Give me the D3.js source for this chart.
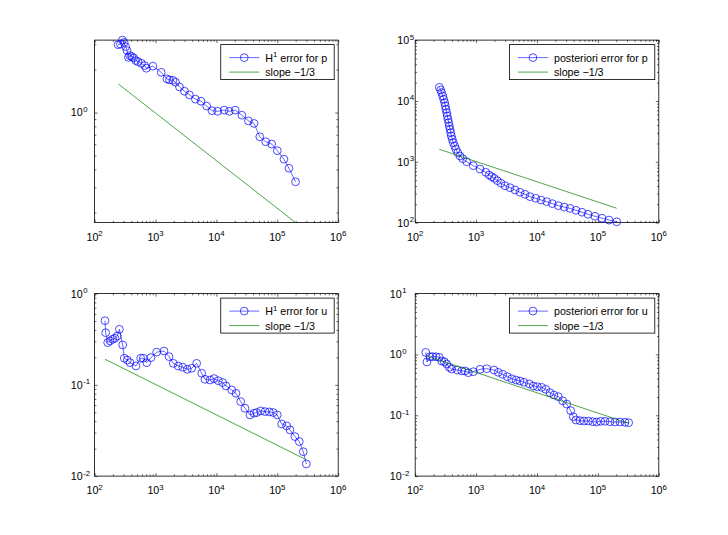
<!DOCTYPE html>
<html lang="en">
<head>
<meta charset="UTF-8">
<title>Error convergence</title>
<script src="https://d3js.org/d3.v7.min.js"></script>
<style>
  * { margin: 0; padding: 0; }
  body { background: #fff; width: 728px; height: 535px; overflow: hidden; }
  svg { display: block; font-family: 'Liberation Sans', Arial, Helvetica, sans-serif; }
  .tick line { stroke: #000; stroke-width: 0.6; }
</style>
</head>
<body>
<svg width="728" height="535"></svg>
<script>
// H1 error for p (top left)
const h1pX = [243, 266, 286, 305, 324, 341, 359, 377, 407, 438, 473, 516, 586, 664, 707, 907, 1242, 1538, 1700, 1928,
  2130, 2477, 2987, 3603, 4518, 5593, 6920, 8470, 10480, 13460, 16250, 20380, 26180, 33600, 41600, 51500, 64600,
  80900, 100000, 128500, 155300, 199500];
const h1pY = [2.98, 3.01, 3.21, 3.09, 2.89, 2.71, 2.43, 2.50, 2.46, 2.41, 2.31, 2.27, 2.21, 2.13, 2.04, 2.11, 1.91,
  1.72, 1.69, 1.68, 1.63, 1.51, 1.41, 1.33, 1.24, 1.20, 1.11, 1.03, 1.02, 1.04, 1.02, 1.04, 0.958, 0.874, 0.839,
  0.677, 0.625, 0.602, 0.541, 0.472, 0.408, 0.328];
const h1pSlopeX = [245, 199500];
const h1pSlopeY = [1.585, 0.170];

// posteriori error for p (top right)
const postPX = [249, 262, 272, 283, 294, 305, 312, 320, 329, 336, 346, 355, 363, 373, 383, 392, 406, 422, 445, 468,
  499, 544, 603, 701, 900, 1159, 1438, 1630, 1803, 1990, 2230, 2564, 2985, 3605, 4355, 5260, 6355, 7677, 9525,
  11640, 14440, 17830, 22370, 28070, 34830, 43690, 54790, 68720, 89540, 116700, 152000, 203700];
const postPY = [16750, 15140, 13660, 12050, 10630, 9360, 8260, 7290, 6410, 5660, 4990, 4390, 3870, 3420, 3010, 2650,
  2340, 2060, 1815, 1603, 1410, 1244, 1123, 1003, 861, 760, 671, 606, 568, 535, 489, 443, 404, 375, 344, 315, 292,
  267, 251, 235, 221, 205, 190, 180, 171, 159, 148, 137, 127, 118, 110, 103];
const postPSlopeX = [249, 203700];
const postPSlopeY = [1603, 172];

// H1 error for u (bottom left)
const h1uX = [148, 152, 164, 179, 198, 216, 236, 255, 289, 307, 345, 381, 478, 571, 631, 717, 843, 1045, 1379, 1667,
  1961, 2366, 2797, 3328, 3928, 4744, 5736, 6500, 7852, 9140, 10740, 12680, 14380, 17830, 20990, 25060, 29510,
  35650, 41440, 45900, 53350, 62800, 73870, 85900, 100000, 117800, 142400, 161300, 194900, 229600, 266800, 300000];
const h1uY = [0.505, 0.373, 0.290, 0.303, 0.316, 0.324, 0.343, 0.406, 0.274, 0.196, 0.187, 0.175, 0.161, 0.196,
  0.196, 0.175, 0.199, 0.228, 0.235, 0.204, 0.172, 0.161, 0.156, 0.148, 0.152, 0.172, 0.134, 0.115, 0.113, 0.117,
  0.111, 0.106, 0.0973, 0.0879, 0.0807, 0.0655, 0.0554, 0.0468, 0.0489, 0.0497, 0.0518, 0.0509, 0.0505, 0.0497,
  0.0468, 0.0373, 0.0355, 0.0321, 0.0271, 0.0239, 0.0185, 0.0136];
const h1uSlopeX = [148, 300000];
const h1uSlopeY = [0.191, 0.0151];

// posteriori error for u (bottom right)
const postUX = [149, 156, 175, 194, 220, 249, 272, 301, 329, 363, 397, 492, 581, 658, 745, 900, 1159, 1493, 1968,
  2317, 2735, 3252, 3845, 4520, 5260, 6120, 7480, 8690, 10120, 11950, 13890, 16330, 19010, 22390, 26420, 30750,
  35760, 39470, 43650, 50800, 59100, 69550, 82200, 95500, 111100, 130900, 158100, 190900, 230700, 278600, 320000];
const postUY = [1.08, 0.751, 0.918, 0.918, 0.918, 0.897, 0.780, 0.759, 0.696, 0.614, 0.575, 0.554, 0.535, 0.535,
  0.501, 0.520, 0.569, 0.583, 0.554, 0.508, 0.471, 0.431, 0.399, 0.380, 0.366, 0.348, 0.327, 0.303, 0.295, 0.288,
  0.267, 0.235, 0.215, 0.202, 0.173, 0.153, 0.119, 0.0946, 0.0835, 0.0814, 0.0805, 0.0805, 0.0784, 0.0775, 0.0796,
  0.0796, 0.0784, 0.0775, 0.0775, 0.0766, 0.0755];
const postUSlopeX = [150, 320000];
const postUSlopeY = [0.95, 0.0738];

const xDomain = [1e2, 1e6];
const slopeLabel = 'slope \u22121/3';

const panels = [
  { left: 94.6, top: 40.1, xs: h1pX, ys: h1pY, sx: h1pSlopeX, sy: h1pSlopeY,
    yDomain: [0.170, 3.21], labelOff: 12, name: ['H', '1', ' error for p'] },
  { left: 415.2, top: 40.1, xs: postPX, ys: postPY, sx: postPSlopeX, sy: postPSlopeY,
    yDomain: [1e2, 1e5], labelOff: 6, name: ['posteriori error for p'] },
  { left: 94.6, top: 293.6, xs: h1uX, ys: h1uY, sx: h1uSlopeX, sy: h1uSlopeY,
    yDomain: [1e-2, 1e0], labelOff: 12, name: ['H', '1', ' error for u'] },
  { left: 415.2, top: 293.6, xs: postUX, ys: postUY, sx: postUSlopeX, sy: postUSlopeY,
    yDomain: [1e-2, 1e1], labelOff: 13.5, name: ['posteriori error for u'] },
];

const PW = 243.6, PH = 182.5;
const BLUE = '#0000ff', GREEN = '#008000';
const FS = 10.7, SUP = 7.8;

const svg = d3.select('svg');
svg.append('rect').attr('width', 728).attr('height', 535).attr('fill', '#fff');

function logTicks(domain) {
  const major = [], minor = [];
  const e0 = Math.floor(Math.log10(domain[0]) + 1e-9), e1 = Math.ceil(Math.log10(domain[1]) - 1e-9);
  for (let e = e0; e <= e1; e++) {
    for (let k = 1; k <= 9; k++) {
      const v = k * Math.pow(10, e);
      if (v < domain[0] * 0.9999 || v > domain[1] * 1.0001) continue;
      (k === 1 ? major : minor).push(v);
    }
  }
  return { major, minor };
}

function expText(v) {
  return String(Math.round(Math.log10(v))).replace('-', '-');
}

function drawPanel(p) {
  const g = svg.append('g');
  const x = d3.scaleLog().domain(xDomain).range([p.left, p.left + PW]);
  const y = d3.scaleLog().domain(p.yDomain).range([p.top + PH, p.top]);

  const xt = logTicks(xDomain), yt = logTicks(p.yDomain);

  // ticks pointing inward on all four sides
  const axes = [
    [d3.axisBottom, x, xt, `translate(0,${p.top + PH})`],
    [d3.axisTop, x, xt, `translate(0,${p.top})`],
    [d3.axisLeft, y, yt, `translate(${p.left},0)`],
    [d3.axisRight, y, yt, `translate(${p.left + PW},0)`],
  ];
  for (const [fn, sc, t, tr] of axes) {
    g.append('g').attr('transform', tr)
      .call(fn(sc).tickValues(t.major).tickSize(-3).tickFormat(''))
      .call(a => a.select('.domain').remove());
    g.append('g').attr('transform', tr)
      .call(fn(sc).tickValues(t.minor).tickSize(-1.8).tickFormat(''))
      .call(a => a.select('.domain').remove());
  }

  g.append('rect')
    .attr('x', p.left).attr('y', p.top).attr('width', PW).attr('height', PH)
    .attr('fill', 'none').attr('stroke', '#000').attr('stroke-width', 0.8);

  // x tick labels
  for (const v of xt.major) {
    const t = g.append('text')
      .attr('x', x(v)).attr('y', p.top + PH + 18)
      .attr('text-anchor', 'middle').attr('font-size', FS);
    t.append('tspan').text('10');
    t.append('tspan').attr('dy', -4.4).attr('font-size', SUP).text(expText(v));
  }
  // y tick labels
  for (const v of yt.major) {
    const yy = y(v) + 3.9;
    g.append('text').attr('x', p.left - p.labelOff).attr('y', yy)
      .attr('text-anchor', 'end').attr('font-size', FS).text('10');
    g.append('text').attr('x', p.left - p.labelOff + 0.6).attr('y', yy - 4.4)
      .attr('font-size', SUP).text(expText(v));
  }

  const pts = p.xs.map((v, i) => [v, p.ys[i]]);
  const line = d3.line().x(d => x(d[0])).y(d => y(d[1]));

  g.append('path').datum(pts).attr('d', line)
    .attr('fill', 'none').attr('stroke', BLUE).attr('stroke-width', 0.6);
  g.append('g').selectAll('circle').data(pts).join('circle')
    .attr('cx', d => x(d[0])).attr('cy', d => y(d[1])).attr('r', 3.9)
    .attr('fill', 'none').attr('stroke', BLUE).attr('stroke-width', 0.7);

  const slopePts = p.sx.map((v, i) => [v, p.sy[i]]);
  g.append('path').datum(slopePts).attr('d', line)
    .attr('fill', 'none').attr('stroke', GREEN).attr('stroke-width', 0.7);

  // legend
  const lg = g.append('g');
  const t1 = lg.append('text').attr('font-size', FS);
  t1.append('tspan').text(p.name[0]);
  if (p.name.length > 1) {
    t1.append('tspan').attr('dy', -4.4).attr('font-size', SUP).text(p.name[1]);
    t1.append('tspan').attr('dy', 4.4).text(p.name[2]);
  }
  const t2 = lg.append('text').attr('font-size', FS).text(slopeLabel);
  const tw = Math.max(t1.node().getComputedTextLength(), t2.node().getComputedTextLength());
  const bw = 44.5 + tw + 7, bh = 35;
  const bx = p.left + PW - 4 - bw, by = p.top + 4.5;
  lg.insert('rect', ':first-child')
    .attr('x', bx).attr('y', by).attr('width', bw).attr('height', bh)
    .attr('fill', '#fff').attr('stroke', '#000').attr('stroke-width', 0.8);
  const r1 = by + 13, r2 = by + 27.5;
  t1.attr('x', bx + 44.5).attr('y', r1 + 3.9);
  t2.attr('x', bx + 44.5).attr('y', r2 + 3.9);
  lg.append('line').attr('x1', bx + 8.5).attr('x2', bx + 38.5).attr('y1', r1).attr('y2', r1)
    .attr('stroke', BLUE).attr('stroke-width', 0.6);
  lg.append('circle').attr('cx', bx + 23.5).attr('cy', r1).attr('r', 3.9)
    .attr('fill', 'none').attr('stroke', BLUE).attr('stroke-width', 0.7);
  lg.append('line').attr('x1', bx + 8.5).attr('x2', bx + 38.5).attr('y1', r2).attr('y2', r2)
    .attr('stroke', GREEN).attr('stroke-width', 0.7);
}

panels.forEach(drawPanel);
</script>
</body>
</html>
